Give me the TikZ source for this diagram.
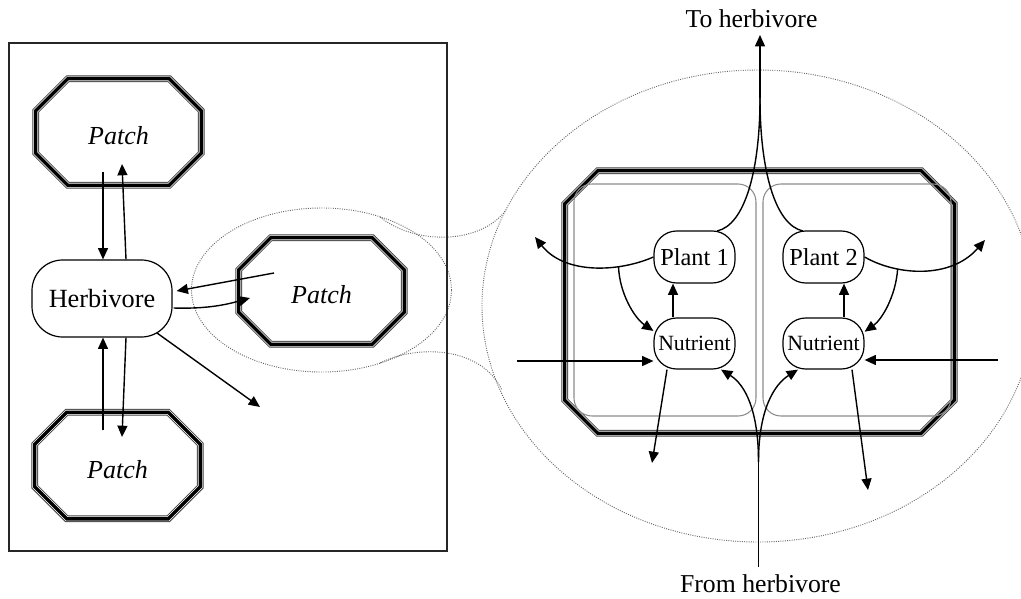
\documentclass[tikz,border=0pt]{standalone}
\usepackage{fontspec}
\setmainfont{Liberation Serif}
\usetikzlibrary{arrows.meta,calc}
\newcommand\octpath[2]{($(#1.north west)+(#2,0)$) -- ($(#1.north east)+(-#2,0)$) -- ($(#1.north east)+(0,#2)$) -- ($(#1.south east)+(0,-#2)$) -- ($(#1.south east)+(-#2,0)$) -- ($(#1.south west)+(#2,0)$) -- ($(#1.south west)+(0,-#2)$) -- ($(#1.north west)+(0,#2)$) -- cycle}
\begin{document}
\begin{tikzpicture}[x=0.75pt,y=-0.75pt,
  arr/.style={-{Triangle[length=8.5pt,width=7.5pt]}, line width=1.05pt},
  ln/.style={line width=1.05pt},
  dbl/.style={line width=2.6pt, preaction={draw=black!75, line width=5.0pt}, preaction={draw=white, line width=3.6pt}},
  patch/.style={inner sep=0pt, minimum width=123.75pt, minimum height=79.5pt, font=\fontsize{19.5}{22}\selectfont\itshape, text height=19pt},
  bigpatch/.style={inner sep=0pt, minimum width=291.75pt, minimum height=196.5pt},
  herb/.style={draw, line width=0.9pt, rounded corners=23pt, minimum width=105pt, minimum height=57.75pt, inner sep=0pt, font=\fontsize{19.7}{22}\selectfont},
  plant/.style={draw, line width=0.9pt, rounded corners=17pt, minimum width=60.75pt, minimum height=39pt, inner sep=0pt, font=\fontsize{18.3}{20}\selectfont},
  nutr/.style={plant, font=\fontsize{16.3}{18}\selectfont, minimum height=38.25pt},
  cell/.style={draw=black!45, line width=0.8pt, rounded corners=13.5pt, minimum height=174pt, inner sep=0pt},
  frame/.style={draw=black!85, line width=0.9pt, minimum width=328.5pt, minimum height=381pt, inner sep=0pt},
  dots/.style={densely dotted, line width=0.7pt, black!60},
  lbl/.style={font=\fontsize{19.3}{22}\selectfont, anchor=base, inner sep=0pt}
]
\useasboundingbox (0,0) rectangle (1021,599);
% zoom ellipses and connecting arcs
\draw[dots] (321.5,290) ellipse [x radius=97.5pt, y radius=61.5pt];
\draw[dots] (758,306) ellipse [x radius=207pt, y radius=177pt];
\draw[dots] (380,217) .. controls (415,245) and (480,245) .. (506,210);
\draw[dots] (380,363) .. controls (415,345) and (480,345) .. (502,390);
% left frame
\node[frame] (fr) at (228,297) {};
% patches
\node[patch] (pA) at (118.5,132) {Patch};
\node[patch] (pB) at (321.5,291) {Patch};
\node[patch] (pC) at (117.5,465.5) {Patch};
\draw[dbl] \octpath{pA}{32};
\draw[dbl] \octpath{pB}{32};
\draw[dbl] \octpath{pC}{32};
\node[herb] (H) at (102,298.5) {Herbivore};
% big patch
\node[bigpatch] (big) at (759.5,302) {};
\draw[dbl] \octpath{big}{33};
\node[cell, minimum width=136.5pt] (c1) at (665,300) {};
\node[cell, minimum width=141pt] (c2) at (857,300) {};
\node[plant] (P1) at (694.5,257) {Plant 1};
\node[plant] (P2) at (823.5,257) {Plant 2};
\node[nutr] (N1) at (694.5,343.5) {Nutrient};
\node[nutr] (N2) at (823.5,343.5) {Nutrient};
% left arrows
\coordinate (a1) at ($(pA)+(-15.5,40)$);
\draw[arr] (a1) -- (a1 |- H.north);
\draw[arr] ($(H.north)+(24,0)$) -- ($(pA)+(3.5,32)$);
\coordinate (c1s) at ($(pC)+(-14.5,-35.5)$);
\draw[arr] (c1s) -- (c1s |- H.south);
\draw[arr] ($(H.south)+(24,0)$) -- ($(pC)+(4.5,-28.5)$);
\draw[arr] ($(pB)+(-47.5,-18)$) -- ($(H.east)+(4,-7.5)$);
\draw[arr] ($(H.east)+(1,9.5)$) .. controls +(32,1) and +(-25,7) .. ($(pB)+(-71.5,7)$);
\coordinate (hfree) at (260,407);
\draw[arr] ($(H)+(55,34.5)$) -- (hfree);
% right arrows
\draw[arr] ($(N1.north)+(-21.5,0)$) -- ($(P1.south)+(-21.5,0)$);
\draw[arr] ($(N2.north)+(20.5,0)$) -- ($(P2.south)+(20.5,0)$);
\coordinate (topjoin) at (760,98);
\coordinate (toH) at (760,35);
\draw[arr] (topjoin) -- (toH);
\draw[ln] ($(P1)+(22.5,-26)$) .. controls +(28,-6) and +(0,72) .. (topjoin);
\draw[ln] ($(P2)+(-20.5,-26)$) .. controls +(-28,-6) and +(0,72) .. (topjoin);
\coordinate (outL) at (535,237);
\coordinate (outR) at (985,240);
\draw[arr] (P1.west) .. controls +(-34,15) and +(30,38) .. (outL) coordinate[pos=0.3] (brL);
\draw[arr] (brL) .. controls +(1,27) and +(-19,-13) .. (N1.163);
\draw[arr] (P2.east) .. controls +(31,18) and +(-35,40) .. (outR) coordinate[pos=0.3] (brR);
\draw[arr] (brR) .. controls +(-2,28) and +(17,-12) .. (N2.16);
\coordinate (inL) at (517,361);
\draw[arr] (inL) -- (inL -| N1.west);
\coordinate (inR) at (998,360);
\draw[arr] (inR) -- (inR -| N2.east);
\coordinate (dn1) at (652,463);
\draw[arr] ($(N1.south)+(-27.5,0)$) -- (dn1);
\coordinate (dn2) at (868,490);
\draw[arr] ($(N2.south)+(28.5,0)$) -- (dn2);
\coordinate (fromH) at (758.5,567);
\coordinate (botjoin) at (758.5,462);
\draw[ln] (fromH) -- (botjoin);
\draw[arr] (botjoin) .. controls +(0,-52) and +(24,15) .. ($(N1.south)+(26.5,0)$);
\draw[arr] (botjoin) .. controls +(0,-52) and +(-24,15) .. ($(N2.south)+(-25.5,0)$);
% labels
\node[lbl] (tolab) at (751.5,28) {To herbivore};
\node[lbl] (fromlab) at (760.5,592) {From herbivore};
\end{tikzpicture}
\end{document}
